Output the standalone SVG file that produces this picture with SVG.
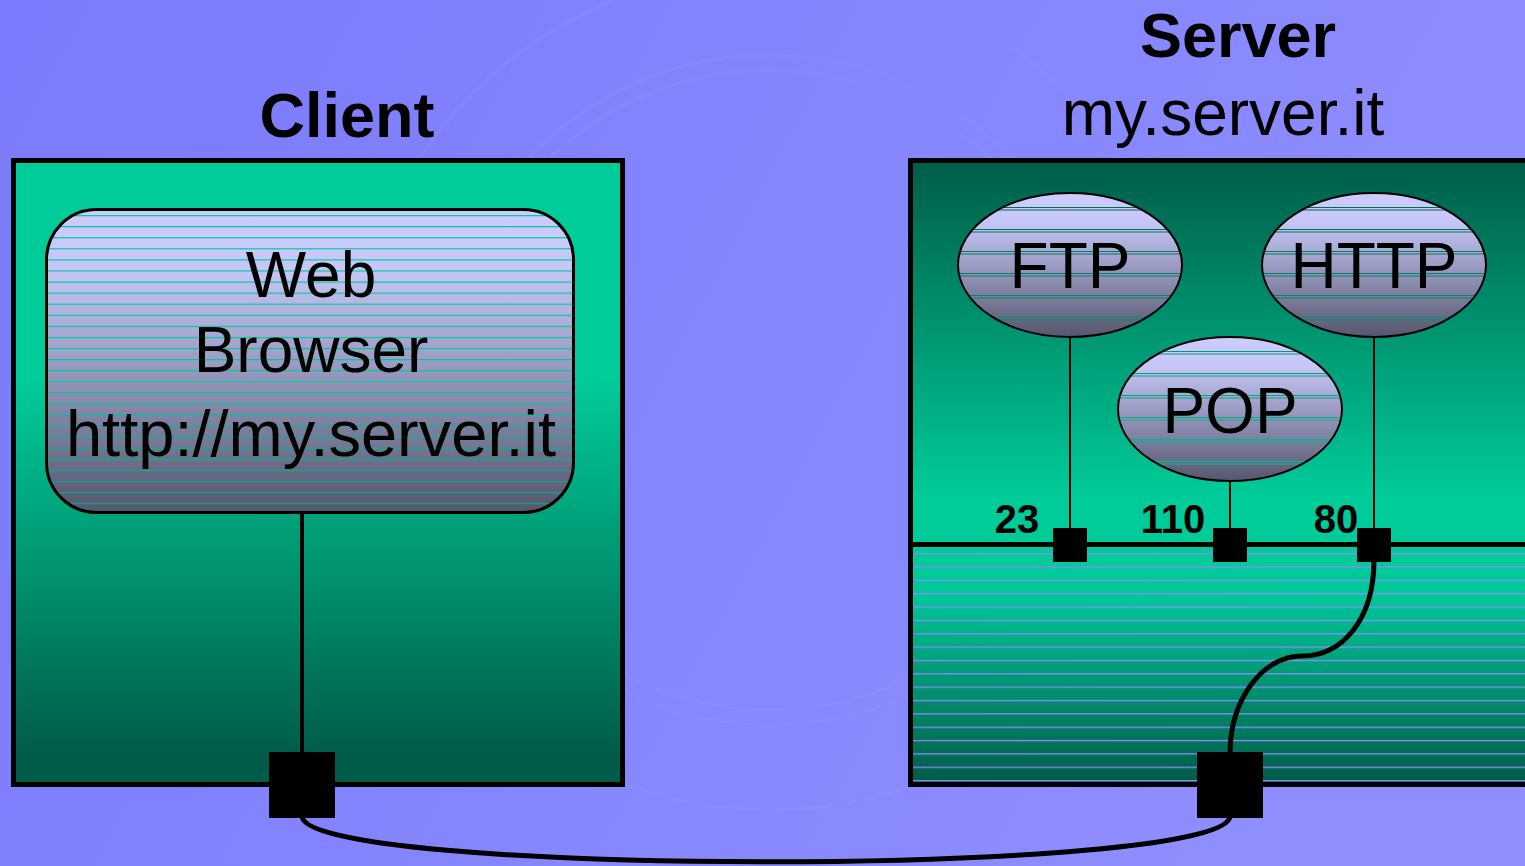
<svg xmlns="http://www.w3.org/2000/svg" width="1525" height="866" viewBox="0 0 1525 866">
<style>
.title{font-family:"Liberation Sans",Arial,sans-serif;font-weight:bold;font-size:63px;fill:#000;text-anchor:middle}
.sub{font-family:"Liberation Sans",Arial,sans-serif;font-size:64px;fill:#000;text-anchor:middle}
.lbl{font-family:"Liberation Sans",Arial,sans-serif;font-size:64px;fill:#000;text-anchor:middle}
.url{font-family:"Liberation Sans",Arial,sans-serif;font-size:65px;fill:#000;text-anchor:middle}
.port{font-family:"Liberation Sans",Arial,sans-serif;font-weight:bold;font-size:40px;fill:#000;text-anchor:middle}
.frame{fill:none;stroke:#000;stroke-width:5}
.thin{fill:none;stroke:#000;stroke-width:2}
.wire{fill:none;stroke:#000;stroke-width:5}
.sq{fill:#000}
</style>
<defs>
<linearGradient id="bg" x1="0" y1="0" x2="1" y2="0.3">
<stop offset="0" stop-color="#7A7AFC"/><stop offset="1" stop-color="#8E8EFF"/>
</linearGradient>
<linearGradient id="clientG" gradientUnits="userSpaceOnUse" x1="0" y1="160" x2="0" y2="785">
<stop offset="0" stop-color="#00CC99"/><stop offset="0.35" stop-color="#00CC99"/><stop offset="0.95" stop-color="#005C48"/>
</linearGradient>
<linearGradient id="srvTop" gradientUnits="userSpaceOnUse" x1="0" y1="160" x2="0" y2="545">
<stop offset="0" stop-color="#005C48"/><stop offset="0.88" stop-color="#00CC99"/><stop offset="1" stop-color="#00CC99"/>
</linearGradient>
<linearGradient id="srvBot" gradientUnits="userSpaceOnUse" x1="0" y1="547" x2="0" y2="785">
<stop offset="0" stop-color="#00CC99"/><stop offset="0.2" stop-color="#00C898"/><stop offset="1" stop-color="#005A46"/>
</linearGradient>
<linearGradient id="lav" x1="0" y1="0" x2="0" y2="1">
<stop offset="0" stop-color="#CCCCFF"/><stop offset="0.2" stop-color="#C6C6F8"/><stop offset="1" stop-color="#56566E"/>
</linearGradient>
<pattern id="pB" patternUnits="userSpaceOnUse" x="0" y="215" width="20" height="11.08">
<rect width="20" height="11.08" fill="#fff"/><rect y="0" width="20" height="1.2" fill="#000"/>
</pattern>
<pattern id="pE1" patternUnits="userSpaceOnUse" x="0" y="207" width="20" height="22">
<rect width="20" height="22" fill="#fff"/><rect y="0" width="20" height="1" fill="#000"/><rect y="2.5" width="20" height="1" fill="#000"/>
</pattern>
<pattern id="pE2" patternUnits="userSpaceOnUse" x="0" y="351" width="20" height="22">
<rect width="20" height="22" fill="#fff"/><rect y="0" width="20" height="1" fill="#000"/><rect y="2.5" width="20" height="1" fill="#000"/>
</pattern>
<pattern id="pS" patternUnits="userSpaceOnUse" x="0" y="553" width="20" height="13.35">
<rect width="20" height="13.35" fill="#fff"/><rect y="0" width="20" height="1.3" fill="#000"/>
</pattern>
<mask id="mB" maskUnits="userSpaceOnUse" x="0" y="0" width="1525" height="866"><rect width="1525" height="866" fill="url(#pB)"/></mask>
<mask id="mE1" maskUnits="userSpaceOnUse" x="0" y="0" width="1525" height="866"><rect width="1525" height="866" fill="url(#pE1)"/></mask>
<mask id="mE2" maskUnits="userSpaceOnUse" x="0" y="0" width="1525" height="866"><rect width="1525" height="866" fill="url(#pE2)"/></mask>
<mask id="mS" maskUnits="userSpaceOnUse" x="0" y="0" width="1525" height="866"><rect width="1525" height="866" fill="url(#pS)"/></mask>
</defs>

<g id="background">
<rect width="1525" height="866" fill="url(#bg)"/>
<g fill="none" stroke="#9A9AFF" stroke-opacity="0.2" stroke-width="3">
<circle cx="770" cy="390" r="420"/>
<circle cx="770" cy="390" r="335"/>
<circle cx="770" cy="390" r="320"/>
</g>
</g>

<g id="titles">
<text class="title" x="347" y="137">Client</text>
<text class="title" x="1238" y="57">Server</text>
<text class="sub" x="1223" y="135">my.server.it</text>
</g>

<g id="client">
<rect x="13.5" y="160.5" width="609" height="624" fill="url(#clientG)"/>
<rect class="frame" x="13.5" y="160.5" width="609" height="624"/>
</g>

<g id="server">
<rect x="910.5" y="160.5" width="620" height="385" fill="url(#srvTop)"/>
<rect x="910.5" y="546" width="620" height="238.5" fill="url(#srvBot)" mask="url(#mS)"/>
<rect class="frame" x="910.5" y="160.5" width="620" height="624"/>
<line x1="910" y1="544.5" x2="1525" y2="544.5" stroke="#000" stroke-width="5"/>
</g>

<g id="browser">
<rect x="46.5" y="209.5" width="527" height="303" rx="50" fill="url(#lav)" mask="url(#mB)"/>
<rect x="46.5" y="209.5" width="527" height="303" rx="50" fill="none" stroke="#000" stroke-width="3"/>
<text class="lbl" x="311" y="297">Web</text>
<text class="lbl" x="311" y="372">Browser</text>
<text class="url" x="311" y="456">http://my.server.it</text>
</g>

<g id="ftp">
<ellipse cx="1070" cy="265" rx="112" ry="72" fill="url(#lav)" mask="url(#mE1)"/>
<ellipse cx="1070" cy="265" rx="112" ry="72" class="thin"/>
<text class="lbl" x="1070" y="288">FTP</text>
</g>
<g id="http">
<ellipse cx="1374" cy="265" rx="112" ry="72" fill="url(#lav)" mask="url(#mE1)"/>
<ellipse cx="1374" cy="265" rx="112" ry="72" class="thin"/>
<text class="lbl" x="1374" y="288">HTTP</text>
</g>
<g id="pop">
<ellipse cx="1230" cy="409" rx="112" ry="72" fill="url(#lav)" mask="url(#mE2)"/>
<ellipse cx="1230" cy="409" rx="112" ry="72" class="thin"/>
<text class="lbl" x="1230" y="433">POP</text>
</g>

<g id="connectors">
<line class="thin" x1="1070" y1="337" x2="1070" y2="530"/>
<line class="thin" x1="1230" y1="481" x2="1230" y2="530"/>
<line class="thin" x1="1374" y1="337" x2="1374" y2="530"/>
<line x1="302" y1="512" x2="302" y2="754" stroke="#000" stroke-width="4"/>
<path class="wire" d="M1374,560 C1374,620 1342,656 1302,656 C1262,656 1230,700 1230,754"/>
<path class="wire" d="M302,816 C302,877 1230,877 1230,816"/>
</g>

<g id="ports">
<rect class="sq" x="1053" y="528" width="34" height="34"/>
<rect class="sq" x="1213" y="528" width="34" height="34"/>
<rect class="sq" x="1357" y="528" width="34" height="34"/>
<text class="port" x="1017" y="533">23</text>
<text class="port" x="1173" y="533">110</text>
<text class="port" x="1336" y="533">80</text>
<rect class="sq" x="269" y="752" width="66" height="66"/>
<rect class="sq" x="1197" y="752" width="66" height="66"/>
</g>
</svg>
